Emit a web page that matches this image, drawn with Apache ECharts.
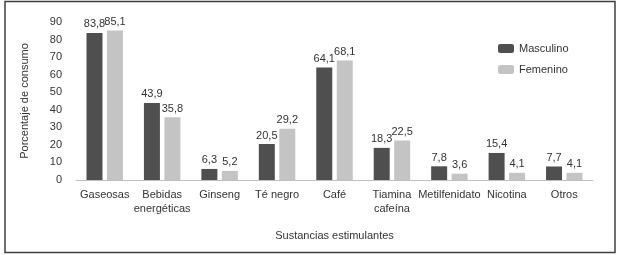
<!DOCTYPE html>
<html><head><meta charset="utf-8">
<script src="https://cdn.jsdelivr.net/npm/echarts@6/dist/echarts.min.js"></script>
<style>html,body{margin:0;padding:0;background:#fff}#c{width:618px;height:255px}</style>
</head><body><div id="c"></div>
<script>
const categories = ['Gaseosas','Bebidas\nenergéticas','Ginseng','Té negro','Café','Tiamina\ncafeína','Metilfenidato','Nicotina','Otros'];
const masculino = [83.8, 43.9, 6.3, 20.5, 64.1, 18.3, 7.8, 15.4, 7.7];
const femenino = [85.1, 35.8, 5.2, 29.2, 68.1, 22.5, 3.6, 4.1, 4.1];
const yTicks = {min: 0, max: 90, interval: 10};

const font = 'Liberation Sans, Arial, sans-serif';
const chart = echarts.init(document.getElementById('c'), null, {renderer: 'canvas'});
const lbl = {show: true, position: 'top', distance: 3, color: '#333', fontSize: 11, fontFamily: font,
  formatter: p => String(p.value).replace('.', ',')};
chart.setOption({
  animation: false,
  graphic: [{type: 'rect', shape: {x: 5, y: 1.5, width: 610, height: 251}, style: {fill: 'none', stroke: '#404040', lineWidth: 1.5}}],
  grid: {left: 76, top: 22, width: 517, height: 158},
  legend: {
    left: 493, top: 38, orient: 'vertical', itemWidth: 16, itemHeight: 9, itemGap: 10,
    textStyle: {fontSize: 11, color: '#333', fontFamily: font},
    data: ['Masculino', 'Femenino']
  },
  xAxis: {
    type: 'category', data: categories,
    axisLine: {lineStyle: {color: '#bfbfbf'}}, axisTick: {show: false},
    axisLabel: {color: '#333', fontSize: 11, fontFamily: font, margin: 8, lineHeight: 14, interval: 0},
    name: 'Sustancias estimulantes', nameLocation: 'middle', nameGap: 50,
    nameTextStyle: {color: '#333', fontSize: 11, fontFamily: font}
  },
  yAxis: {
    type: 'value', min: yTicks.min, max: yTicks.max, interval: yTicks.interval,
    axisLine: {show: false}, axisTick: {show: false}, splitLine: {show: false},
    axisLabel: {color: '#333', fontSize: 11, fontFamily: font, margin: 14},
    name: 'Porcentaje de consumo', nameLocation: 'middle', nameGap: 46,
    nameTextStyle: {color: '#333', fontSize: 11, fontFamily: font}
  },
  series: [
    {name: 'Masculino', type: 'bar', data: masculino, barWidth: 16, barGap: '28%', itemStyle: {color: '#4f4f4f'}, label: lbl},
    {name: 'Femenino', type: 'bar', data: femenino, barWidth: 16, itemStyle: {color: '#c4c4c4'}, label: lbl}
  ]
});
</script></body></html>
